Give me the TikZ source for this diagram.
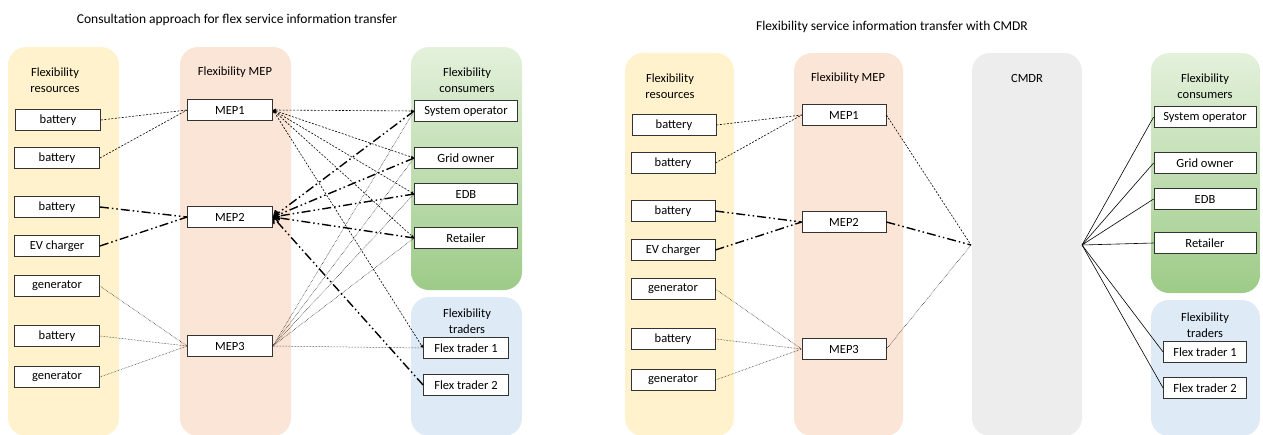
\documentclass[tikz,border=0pt]{standalone}
\usepackage{fontspec}
\setmainfont{Carlito}
\usetikzlibrary{arrows.meta}

\definecolor{resfill}{HTML}{FFF2CC}
\definecolor{mepfill}{HTML}{FBE5D6}
\definecolor{contop}{HTML}{E4F1DC}
\definecolor{conbot}{HTML}{9DCB88}
\definecolor{trdfill}{HTML}{DEEBF7}
\definecolor{cmdrfill}{HTML}{EDEDED}

\tikzstyle{lane} = [rounded corners=18pt]
\tikzstyle{box} = [draw=black!80, fill=white, line width=0.8pt, minimum height=21pt, inner sep=1pt, font=\fontsize{12.5}{15}\selectfont]
\tikzstyle{head} = [align=center, inner sep=0pt, font=\fontsize{12.5}{15.5}\selectfont]
\tikzstyle{caption} = [inner sep=0pt, font=\fontsize{13.5}{16}\selectfont]
\tikzstyle{req} = [line width=0.6pt, dash pattern=on 2pt off 1.5pt]
\tikzstyle{ask} = [req, {Latex[length=3pt, width=3pt]}-{Latex[length=3pt, width=3pt]}]
\tikzstyle{bulk} = [line width=1.4pt, dash pattern=on 9pt off 3pt on 1.5pt off 3pt on 1.5pt off 3pt]
\tikzstyle{feed} = [line width=0.5pt, densely dotted]
\tikzstyle{link} = [line width=0.6pt]

\begin{document}
\begin{tikzpicture}[x=1pt, y=-1pt, >={Straight Barb[length=5pt, width=8pt]}]
\useasboundingbox (0,0) rectangle (1263,434);

% consultation approach
\fill[resfill, lane] (8,47) rectangle (119,436);
\fill[mepfill, lane] (180,47) rectangle (291,436);
\shade[lane, top color=contop, bottom color=conbot] (411,47) rectangle (522,290);
\fill[trdfill, lane] (411,297) rectangle (522,436);

\node[caption] (tleft) at (237,20) {Consultation approach for flex service information transfer};
\node[head] (hres) at (55,80) {Flexibility\\resources};
\node[head] (hmep) at (235,72) {Flexibility MEP};
\node[head] (hcon) at (467,80) {Flexibility\\consumers};
\node[head] (htrd) at (467,321) {Flexibility\\traders};

\node[box, minimum width=85pt] (r1) at (58,120) {battery};
\node[box, minimum width=85pt] (r2) at (57,158) {battery};
\node[box, minimum width=85pt] (r3) at (57,207) {battery};
\node[box, minimum width=85pt] (r4) at (57,246) {EV charger};
\node[box, minimum width=85pt] (r5) at (57,286) {generator};
\node[box, minimum width=85pt] (r6) at (57,336) {battery};
\node[box, minimum width=85pt] (r7) at (57,377) {generator};

\node[box, minimum width=85pt] (m1) at (230,110) {MEP1};
\node[box, minimum width=85pt] (m2) at (230,217) {MEP2};
\node[box, minimum width=85pt] (m3) at (230,346) {MEP3};

\node[box, minimum width=103pt] (c1) at (466,111) {System operator};
\node[box, minimum width=103pt] (c2) at (466,158) {Grid owner};
\node[box, minimum width=103pt] (c3) at (466,194) {EDB};
\node[box, minimum width=103pt] (c4) at (466,238) {Retailer};
\node[box, minimum width=85pt] (t1) at (466,348) {Flex trader 1};
\node[box, minimum width=85pt] (t2) at (466,385) {Flex trader 2};

\draw[req] (r1.east) -- (m1.west);
\draw[req] (r2.east) -- (m1.west);
\draw[bulk] (r3.east) -- (m2.west);
\draw[bulk] (r4.east) -- (m2.west);
\draw[feed] (r5.east) -- (m3.west);
\draw[feed] (r6.east) -- (m3.west);
\draw[feed] (r7.east) -- (m3.west);

\draw[ask] (m1.east) -- (c1.west);
\draw[ask] (m1.east) -- (c2.west);
\draw[ask] (m1.east) -- (c3.west);
\draw[ask] (m1.east) -- (c4.west);
\draw[ask] (m1.east) -- (t1.west);

\draw[bulk, ->] (c1.west) -- (m2.east);
\draw[bulk, ->] (c2.west) -- (m2.east);
\draw[bulk, ->] (c3.west) -- (m2.east);
\draw[bulk, ->] (c4.west) -- (m2.east);
\draw[bulk, ->] (t2.west) -- (m2.east);

\draw[feed] (m3.east) -- (c1.west);
\draw[feed] (m3.east) -- (c2.west);
\draw[feed] (m3.east) -- (c3.west);
\draw[feed] (m3.east) -- (c4.west);
\draw[feed] (m3.east) -- (t1.west);

% transfer through the CMDR
\fill[resfill, lane] (625,53) rectangle (734,436);
\fill[mepfill, lane] (794,53) rectangle (903,436);
\fill[cmdrfill, lane] (972,53) rectangle (1082,436);
\shade[lane, top color=contop, bottom color=conbot] (1151,53) rectangle (1260,293);
\fill[trdfill, lane] (1151,300) rectangle (1260,436);

\node[caption] (tright) at (892,27) {Flexibility service information transfer with CMDR};
\node[head] (hres2) at (670,86) {Flexibility\\resources};
\node[head] (hmep2) at (848,78) {Flexibility MEP};
\node[head] (hcmdr) at (1027,78) {CMDR};
\node[head] (hcon2) at (1205,86) {Flexibility\\consumers};
\node[head] (htrd2) at (1205,325) {Flexibility\\traders};

\node[box, minimum width=84pt] (s1) at (674,125) {battery};
\node[box, minimum width=84pt] (s2) at (673,163) {battery};
\node[box, minimum width=84pt] (s3) at (673,211) {battery};
\node[box, minimum width=84pt] (s4) at (673,250) {EV charger};
\node[box, minimum width=84pt] (s5) at (673,289) {generator};
\node[box, minimum width=84pt] (s6) at (673,339) {battery};
\node[box, minimum width=84pt] (s7) at (673,380) {generator};

\node[box, minimum width=84pt] (n1) at (844,115) {MEP1};
\node[box, minimum width=84pt] (n2) at (844,222) {MEP2};
\node[box, minimum width=84pt] (n3) at (844,349) {MEP3};

\node[box, minimum width=102pt] (d1) at (1205,117) {System operator};
\node[box, minimum width=102pt] (d2) at (1205,163) {Grid owner};
\node[box, minimum width=102pt] (d3) at (1205,199) {EDB};
\node[box, minimum width=102pt] (d4) at (1205,243) {Retailer};
\node[box, minimum width=83pt] (u1) at (1205,352) {Flex trader 1};
\node[box, minimum width=83pt] (u2) at (1205,388) {Flex trader 2};

\coordinate (hubin) at (971,245);
\coordinate (hubout) at (1082,245);

\draw[req] (s1.east) -- (n1.west);
\draw[req] (s2.east) -- (n1.west);
\draw[bulk] (s3.east) -- (n2.west);
\draw[bulk] (s4.east) -- (n2.west);
\draw[feed] (s5.east) -- (n3.west);
\draw[feed] (s6.east) -- (n3.west);
\draw[feed] (s7.east) -- (n3.west);

\draw[req] (n1.east) -- (hubin);
\draw[bulk] (n2.east) -- (hubin);
\draw[feed] (n3.east) -- (hubin);

\draw[link] (hubout) -- (d1.west);
\draw[link] (hubout) -- (d2.west);
\draw[link] (hubout) -- (d3.west);
\draw[link] (hubout) -- (d4.west);
\draw[link] (hubout) -- (u1.west);
\draw[link] (hubout) -- (u2.west);
\end{tikzpicture}
\end{document}
